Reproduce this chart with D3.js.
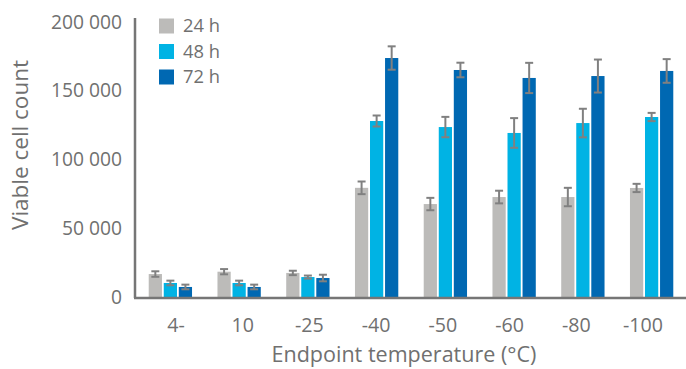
<!DOCTYPE html>
<html>
<head>
<meta charset="utf-8">
<script src="https://cdn.jsdelivr.net/npm/d3@7/dist/d3.min.js"></script>
<style>
  html, body { margin: 0; padding: 0; background: #fff; }
  svg text { font-family: "Open Sans", Lato, sans-serif; fill: #707070; }
</style>
</head>
<body>
<svg id="chart" width="686" height="369"></svg>
<script>
const categories = ["4-", "10", "-25", "-40", "-50", "-60", "-80", "-100"];
const seriesNames = ["24 h", "48 h", "72 h"];
const values24 = [16700, 18400, 17500, 79400, 67600, 72700, 72700, 79300];
const values48 = [10200, 10200, 14500, 128000, 123600, 119300, 126500, 130900];
const values72 = [7300, 7300, 13800, 173800, 165100, 159300, 160700, 164400];
const errors24 = [2000, 1900, 1600, 4600, 4500, 4600, 6700, 3000];
const errors48 = [1700, 1700, 1100, 4000, 7400, 10800, 10400, 3000];
const errors72 = [1700, 1700, 2400, 8500, 5300, 11000, 12000, 8600];
const yTicks = [0, 50000, 100000, 150000, 200000];
const colors = ["#BCBBB9", "#00B3E4", "#0068B2"];

const seriesValues = [values24, values48, values72];
const seriesErrors = [errors24, errors48, errors72];

const svg = d3.select("#chart");

const x = d3.scaleBand().domain(categories).range([136, 686]).paddingInner(0.37).paddingOuter(0.185);
const xs = d3.scaleBand().domain(seriesNames).range([0, x.bandwidth()]).paddingInner(0.12);
const xl = d3.scalePoint().domain(categories).range([176, 643]);
const y = d3.scaleLinear().domain([0, 200000]).range([297, 22]);

const fmt = v => d3.format(",")(v).replace(/,/g, " ");

// fit a text element's font size to a target width
function fit(sel, target) {
  const n = sel.node();
  const w = n.getComputedTextLength();
  const fs = parseFloat(sel.style("font-size"));
  if (w > 0) sel.style("font-size", (fs * target / w).toFixed(2) + "px");
}

// y tick labels
const yl = svg.append("g").selectAll("text").data(yTicks).join("text")
  .attr("x", 122).attr("y", d => y(d)).attr("dy", "0.35em")
  .attr("text-anchor", "end").style("font-size", "18px")
  .text(fmt);
{
  const top = yl.filter(d => d === 200000);
  fit(top, 71);
  yl.style("font-size", top.style("font-size"));
}

// bars
const data = [];
categories.forEach((c, i) => seriesNames.forEach((s, j) => {
  data.push({ c, s, j, v: seriesValues[j][i], e: seriesErrors[j][i] });
}));

svg.append("g").selectAll("rect").data(data).join("rect")
  .attr("x", d => x(d.c) + xs(d.s))
  .attr("y", d => y(d.v))
  .attr("width", xs.bandwidth())
  .attr("height", d => y(0) - y(d.v))
  .attr("fill", d => colors[d.j]);

// error bars
const eg = svg.append("g").attr("stroke", "#808080").attr("stroke-width", 2);
data.forEach(d => {
  const cx = x(d.c) + xs(d.s) + xs.bandwidth() / 2;
  eg.append("line").attr("x1", cx).attr("x2", cx).attr("y1", y(d.v + d.e)).attr("y2", y(d.v - d.e));
  eg.append("line").attr("x1", cx - 4).attr("x2", cx + 4).attr("y1", y(d.v + d.e)).attr("y2", y(d.v + d.e));
  eg.append("line").attr("x1", cx - 4).attr("x2", cx + 4).attr("y1", y(d.v - d.e)).attr("y2", y(d.v - d.e));
});

// axes lines
svg.append("line").attr("x1", 135).attr("x2", 135).attr("y1", 18).attr("y2", 298)
  .attr("stroke", "#767676").attr("stroke-width", 2.5);
svg.append("line").attr("x1", 134).attr("x2", 686).attr("y1", y(0) + 1).attr("y2", y(0) + 1)
  .attr("stroke", "#767676").attr("stroke-width", 2.5);

// x tick labels
const xt = svg.append("g").selectAll("text").data(categories).join("text")
  .attr("x", d => xl(d)).attr("y", 325).attr("dy", "0.35em")
  .attr("text-anchor", "middle").style("font-size", "18px")
  .text(d => d);
{
  const last = xt.filter(d => d === "-100");
  fit(last, 40);
  xt.style("font-size", last.style("font-size"));
}

// axis titles
const xTitle = svg.append("text").attr("x", 404).attr("y", 362)
  .attr("text-anchor", "middle").style("font-size", "20px")
  .text("Endpoint temperature (°C)");
fit(xTitle, 265);
const yTitle = svg.append("text").attr("transform", "translate(20,145) rotate(-90)").attr("dy", "0.35em")
  .attr("text-anchor", "middle").style("font-size", "20px")
  .text("Viable cell count");
fit(yTitle, 170);

// legend
const lg = svg.append("g");
seriesNames.forEach((s, j) => {
  const yy = 26 + j * 25.5;
  lg.append("rect").attr("x", 159).attr("y", yy - 7.5).attr("width", 15).attr("height", 15).attr("fill", colors[j]);
  const t = lg.append("text").attr("x", 183).attr("y", yy).attr("dy", "0.35em").style("font-size", "18px").text(s);
  fit(t, 37);
});
</script>
</body>
</html>
